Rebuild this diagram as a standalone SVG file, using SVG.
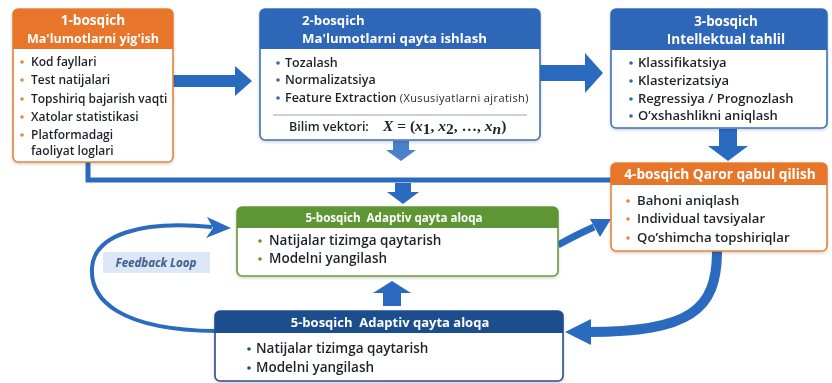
<svg xmlns="http://www.w3.org/2000/svg" width="832" height="383" viewBox="0 0 832 383">
<defs>
<style>
.box{fill:#fff;stroke-width:1.6}
.t{font-family:"Open Sans","Noto Sans","Liberation Sans",sans-serif;font-weight:700;fill:#fff}
.b{font-family:"Open Sans","Noto Sans","Liberation Sans",sans-serif;font-weight:600;fill:#1f232b}
.sm{font-family:"Open Sans","Noto Sans","Liberation Sans",sans-serif;font-weight:400;font-size:11px;letter-spacing:0.4px;fill:#1f232b}
.m{font-family:"Liberation Serif",serif;font-style:italic;font-size:15.5px;fill:#1f232b}
.mr{font-family:"Liberation Serif",serif;font-size:15.5px;fill:#1f232b}
.con{fill:none;stroke:#2a6bbf}
.ah{fill:#2a6bbf}
.or .box{stroke:#e8843a}.or .hd{fill:#e8762b}.or .dot{fill:#e8843a}
.bl .box{stroke:#3a70bf}.bl .hd{fill:#2f66b8}.bl .dot{fill:#2f66b8}
.gr .box{stroke:#679a3c}.gr .hd{fill:#5e9634}.gr .dot{fill:#5e9634}
.db .box{stroke:#24508c}.db .hd{fill:#1f4e8c}.db .dot{fill:#1f4e8c}
</style>
<filter id="sh" x="-5%" y="-5%" width="110%" height="115%">
<feDropShadow dx="0" dy="1.5" stdDeviation="1.5" flood-color="#000" flood-opacity="0.18"/>
</filter>
</defs>
<rect width="832" height="383" fill="#fff"/>

<g id="connectors">
<polygon class="ah" points="173,75 235,75 235,66 252,81 235,96 235,87 173,87"/>
<polygon class="ah" points="540,65 585,65 585,53 603,73 585,93 585,81 540,81"/>
<polygon class="ah" points="393,141 409,141 409,150 416,150 401,161 386,150 393,150" opacity="0.85"/>
<polygon class="ah" points="719,129 737,129 737,146 748,146 728,161 708,146 719,146"/>
<path class="con" d="M88,162 V180 H611" stroke-width="5"/>
<polygon class="ah" points="395,183 411,183 411,192 419,192 403,204 387,192 395,192"/>
<polygon class="ah" points="383,306 401,306 401,293 411,293 392,281 373,293 383,293"/>
<path class="con" d="M558,245 Q578,234 594,227" stroke-width="7"/>
<polygon class="ah" points="611,219 600,237 590,219"/>
<path class="con" d="M717,251 C717,310 690,332 588,332" stroke-width="10"/>
<polygon class="ah" points="565,332 591,319 591,345"/>
<path class="con" d="M216,331 C120,330 90,300 92,268 C94,235 140,220 212,227" stroke-width="4"/>
<polygon class="ah" points="231,228 207,217 213,228 206,238"/>
</g>

<g id="n1" class="or" filter="url(#sh)">
<rect class="box" x="13" y="9" width="160" height="153" rx="5"/>
<path class="hd" d="M13,49 V14 A5,5 0 0 1 18,9 H168 A5,5 0 0 1 173,14 V49 Z"/>
<text class="t" font-size="13.6" x="93" y="25" text-anchor="middle">1-bosqich</text>
<text class="t" font-size="12.5" x="93" y="43" text-anchor="middle">Ma'lumotlarni yig'ish</text>
<g class="b" font-size="12">
<circle class="dot" cx="22" cy="62" r="1.8"/><text x="31" y="66">Kod fayllari</text>
<circle class="dot" cx="22" cy="80" r="1.8"/><text x="31" y="84">Test natijalari</text>
<circle class="dot" cx="22" cy="99" r="1.8"/><text x="31" y="103">Topshiriq bajarish vaqti</text>
<circle class="dot" cx="22" cy="117" r="1.8"/><text x="31" y="121">Xatolar statistikasi</text>
<circle class="dot" cx="22" cy="135" r="1.8"/><text x="31" y="139">Platformadagi</text>
<text x="31" y="155">faoliyat loglari</text>
</g>
</g>

<g id="n2" class="bl" filter="url(#sh)">
<rect class="box" x="260" y="9" width="280" height="131" rx="5"/>
<path class="hd" d="M260,49 V14 A5,5 0 0 1 265,9 H535 A5,5 0 0 1 540,14 V49 Z"/>
<text class="t" font-size="13.2" x="302" y="25">2-bosqich</text>
<text class="t" font-size="13.2" x="302" y="43">Ma'lumotlarni qayta ishlash</text>
<g class="b" font-size="12.5">
<circle class="dot" cx="278" cy="63" r="1.8"/><text x="285" y="67">Tozalash</text>
<circle class="dot" cx="278" cy="80" r="1.8"/><text x="285" y="84">Normalizatsiya</text>
<circle class="dot" cx="278" cy="98" r="1.8"/><text x="285" y="102">Feature Extraction <tspan class="sm">(Xususiyatlarni ajratish)</tspan></text>
</g>
<line x1="273" y1="115" x2="527" y2="115" stroke="#9aa3ad" stroke-width="1"/>
<text class="b" font-size="12.5" x="289" y="131">Bilim vektori:<tspan class="m" x="383">X</tspan><tspan class="mr"> = (</tspan><tspan class="m">x</tspan><tspan class="mr" font-size="10" dy="3">1</tspan><tspan class="mr" dy="-3">, </tspan><tspan class="m">x</tspan><tspan class="mr" font-size="10" dy="3">2</tspan><tspan class="mr" dy="-3">, …, </tspan><tspan class="m">x</tspan><tspan class="m" font-size="10" dy="3">n</tspan><tspan class="mr" dy="-3">)</tspan></text>
</g>

<g id="n3" class="bl" filter="url(#sh)">
<rect class="box" x="611" y="9" width="216" height="119" rx="5"/>
<path class="hd" d="M611,50 V14 A5,5 0 0 1 616,9 H822 A5,5 0 0 1 827,14 V50 Z"/>
<text class="t" font-size="13.4" x="726" y="25.5" text-anchor="middle">3-bosqich</text>
<text class="t" font-size="13.6" x="726" y="44" text-anchor="middle">Intellektual tahlil</text>
<g class="b" font-size="13">
<circle class="dot" cx="631" cy="63" r="1.8"/><text x="638" y="67">Klassifikatsiya</text>
<circle class="dot" cx="631" cy="81" r="1.8"/><text x="638" y="85">Klasterizatsiya</text>
<circle class="dot" cx="631" cy="99" r="1.8"/><text x="638" y="103">Regressiya / Prognozlash</text>
<circle class="dot" cx="631" cy="116" r="1.8"/><text x="638" y="120">O’xshashlikni aniqlash</text>
</g>
</g>

<g id="n4" class="or" filter="url(#sh)">
<rect class="box" x="611" y="163" width="216" height="88" rx="5"/>
<path class="hd" d="M611,185 V168 A5,5 0 0 1 616,163 H822 A5,5 0 0 1 827,168 V185 Z"/>
<text class="t" font-size="13.7" x="720" y="179" text-anchor="middle">4-bosqich Qaror qabul qilish</text>
<g class="b" font-size="13.2">
<circle class="dot" cx="628" cy="201" r="1.8"/><text x="637" y="205">Bahoni aniqlash</text>
<circle class="dot" cx="628" cy="219" r="1.8"/><text x="637" y="223">Individual tavsiyalar</text>
<circle class="dot" cx="628" cy="238" r="1.8"/><text x="637" y="242">Qo’shimcha topshiriqlar</text>
</g>
</g>

<g id="n5" class="gr" filter="url(#sh)">
<rect class="box" x="237" y="207" width="321" height="69" rx="5"/>
<path class="hd" d="M237,228 V212 A5,5 0 0 1 242,207 H553 A5,5 0 0 1 558,212 V228 Z"/>
<text class="t" font-size="11.6" x="394" y="222" text-anchor="middle" xml:space="preserve">5-bosqich  Adaptiv qayta aloqa</text>
<g class="b" font-size="13.5">
<circle class="dot" cx="260" cy="241" r="1.8"/><text x="269" y="245">Natijalar tizimga qaytarish</text>
<circle class="dot" cx="260" cy="259" r="1.8"/><text x="269" y="263">Modelni yangilash</text>
</g>
</g>

<g id="n6" class="db" filter="url(#sh)">
<rect class="box" x="215" y="311" width="348" height="70" rx="5"/>
<path class="hd" d="M215,333 V316 A5,5 0 0 1 220,311 H558 A5,5 0 0 1 563,316 V333 Z"/>
<text class="t" font-size="13" x="390" y="327" text-anchor="middle" xml:space="preserve">5-bosqich  Adaptiv qayta aloqa</text>
<g class="b" font-size="13.5">
<circle class="dot" cx="249" cy="349" r="1.8"/><text x="256" y="353">Natijalar tizimga qaytarish</text>
<circle class="dot" cx="249" cy="368" r="1.8"/><text x="256" y="372">Modelni yangilash</text>
</g>
</g>

<g id="feedback-label">
<rect x="103" y="252" width="107" height="21" fill="#dce8f6"/>
<text x="156" y="267" text-anchor="middle" font-family="'Open Sans','Noto Sans','Liberation Sans',sans-serif" font-weight="700" font-style="italic" font-size="11.5" fill="#3f5f8f">Feedback Loop</text>
</g>
</svg>
